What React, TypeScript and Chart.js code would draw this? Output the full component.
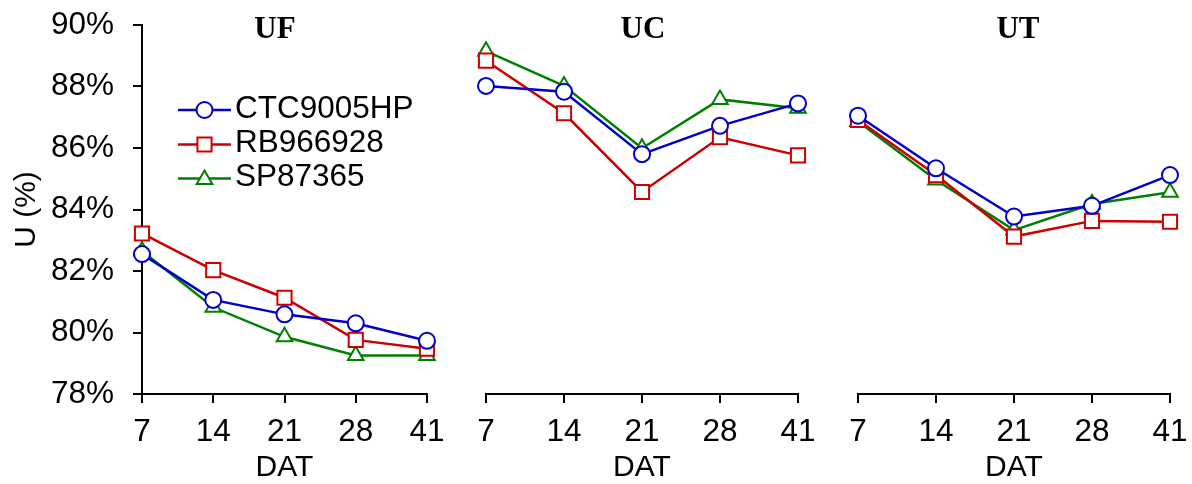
import React, { useEffect, useRef } from 'react';
import { Chart, registerables } from 'chart.js';

Chart.register(...registerables);

const SANS = "'Liberation Sans', Arial, sans-serif";
const SERIF = "'Liberation Serif', 'Times New Roman', serif";

// ---- data ----
const categories = ['7', '14', '21', '28', '41'];
const seriesNames = ['CTC9005HP', 'RB966928', 'SP87365'];

const ufCTC = [82.55, 81.06, 80.59, 80.3, 79.73];
const ufRB = [83.22, 82.03, 81.13, 79.76, 79.47];
const ufSP = [82.65, 80.82, 79.86, 79.25, 79.25];

const ucCTC = [88.02, 87.83, 85.8, 86.72, 87.45];
const ucRB = [88.84, 87.13, 84.57, 86.35, 85.76];
const ucSP = [89.15, 88.02, 85.99, 87.58, 87.29];

const utCTC = [87.05, 85.34, 83.77, 84.12, 85.12];
const utRB = [86.91, 85.12, 83.12, 83.63, 83.6];
const utSP = [86.86, 84.96, 83.33, 84.18, 84.56];

const yMin = 78;
const yMax = 90;
const yStep = 2;
const panelTitles = ['UF', 'UC', 'UT'];
const xTitle = 'DAT';
const yTitle = 'U (%)';

// ---- styles ----
const seriesColors = ['#0000C8', '#CC0000', '#008000'];
const seriesShapes = ['circle', 'rect', 'triangle'];
const seriesRadius = [8, 10, 9];
const TICK_SIZE = 31.5;
const TITLE_SIZE = 30;

const panels = [
  { title: panelTitles[0], values: [ufCTC, ufRB, ufSP], left: 0, width: 456, padL: 0, padR: 29, showY: true, legend: true, titleX: 275 },
  { title: panelTitles[1], values: [ucCTC, ucRB, ucSP], left: 456, width: 372, padL: 30, padR: 30, showY: false, legend: false, titleX: 643 },
  { title: panelTitles[2], values: [utCTC, utRB, utSP], left: 828, width: 364, padL: 30, padR: 22, showY: false, legend: false, titleX: 1018 },
];

function drawMarker(ctx: CanvasRenderingContext2D, shape: string, x: number, y: number, r: number, color: string) {
  ctx.save();
  ctx.lineWidth = 2;
  ctx.strokeStyle = color;
  ctx.fillStyle = '#fff';
  ctx.beginPath();
  if (shape === 'circle') {
    ctx.arc(x, y, r, 0, Math.PI * 2);
  } else if (shape === 'rect') {
    const s = r * Math.SQRT1_2;
    ctx.rect(x - s, y - s, 2 * s, 2 * s);
  } else {
    ctx.moveTo(x, y - r);
    ctx.lineTo(x + Math.sin((2 * Math.PI) / 3) * r, y + r / 2);
    ctx.lineTo(x - Math.sin((2 * Math.PI) / 3) * r, y + r / 2);
    ctx.closePath();
  }
  ctx.fill();
  ctx.stroke();
  ctx.restore();
}

function Panel({ cfg }: { cfg: any }) {
  const ref = useRef<HTMLCanvasElement>(null);
  useEffect(() => {
    if (!ref.current) return;
    const titlePlugin = {
      id: 'panelTitle',
      afterDraw(chart: any) {
        const ctx = chart.ctx;
        ctx.save();
        ctx.font = `bold 31px ${SERIF}`;
        ctx.fillStyle = '#000';
        ctx.textAlign = 'center';
        ctx.textBaseline = 'middle';
        ctx.fillText(cfg.title, cfg.titleX - cfg.left, 30);
        ctx.restore();
      },
    };
    const legendPlugin = {
      id: 'lineLegend',
      afterDraw(chart: any) {
        if (!cfg.legend) return;
        const ctx = chart.ctx;
        const rows = [110, 144.5, 178.5];
        seriesNames.forEach((name, i) => {
          const y = rows[i];
          ctx.save();
          ctx.strokeStyle = seriesColors[i];
          ctx.lineWidth = 2.5;
          ctx.beginPath();
          ctx.moveTo(178, y);
          ctx.lineTo(231, y);
          ctx.stroke();
          ctx.restore();
          drawMarker(ctx, seriesShapes[i], 204.5, y + (seriesShapes[i] === 'triangle' ? 1 : 0), seriesRadius[i], seriesColors[i]);
          ctx.save();
          ctx.font = `${TICK_SIZE}px ${SANS}`;
          ctx.fillStyle = '#000';
          ctx.textAlign = 'left';
          ctx.textBaseline = 'middle';
          ctx.fillText(name, 235, y - 1);
          ctx.restore();
        });
      },
    };
    const chart = new Chart(ref.current, {
      type: 'line',
      data: {
        labels: categories,
        datasets: cfg.values.map((vals: number[], i: number) => ({
          label: seriesNames[i],
          data: vals,
          borderColor: seriesColors[i],
          borderWidth: 2.5,
          pointStyle: seriesShapes[i],
          pointRadius: seriesRadius[i],
          pointHoverRadius: seriesRadius[i],
          pointBorderWidth: 2,
          pointBackgroundColor: '#fff',
          pointBorderColor: seriesColors[i],
          tension: 0,
          fill: false,
          clip: false,
        })),
      },
      options: {
        responsive: false,
        animation: false,
        events: [],
        layout: { padding: { left: cfg.padL, right: cfg.padR, top: 25, bottom: 0 } },
        plugins: { legend: { display: false }, tooltip: { enabled: false }, title: { display: false } },
        scales: {
          x: {
            type: 'category',
            offset: false,
            grid: { display: true, drawOnChartArea: false, drawTicks: true, tickLength: 9, color: '#000', lineWidth: 2 },
            border: { display: true, color: '#000', width: 2 },
            ticks: { font: { family: SANS, size: TICK_SIZE }, color: '#000', padding: 10, maxRotation: 0, autoSkip: false },
            title: { display: true, text: xTitle, font: { family: SANS, size: TITLE_SIZE, lineHeight: 1.1 }, color: '#000', padding: { top: 0, bottom: 0 } },
            afterFit: (s: any) => {
              s.height = 90;
              s.paddingLeft = 0;
              s.paddingRight = 0;
            },
          },
          y: {
            display: cfg.showY,
            min: yMin,
            max: yMax,
            grid: { display: true, drawOnChartArea: false, drawTicks: true, tickLength: 9, color: '#000', lineWidth: 2 },
            border: { display: true, color: '#000', width: 2 },
            ticks: { stepSize: yStep, font: { family: SANS, size: TICK_SIZE }, color: '#000', padding: 19, callback: (v: any) => `${v}%` },
            title: { display: true, text: yTitle, font: { family: SANS, size: TITLE_SIZE, lineHeight: 1.2 }, color: '#000', padding: { top: 9, bottom: 0 } },
            afterFit: (s: any) => {
              if (cfg.showY) s.width = 142;
              s.paddingTop = 0;
              s.paddingBottom = 0;
            },
          },
        },
      },
      plugins: [titlePlugin, legendPlugin],
    } as any);
    return () => chart.destroy();
  }, [cfg]);
  return (
    <canvas
      ref={ref}
      width={cfg.width}
      height={484}
      style={{ position: 'absolute', left: cfg.left, top: 0, width: cfg.width, height: 484 }}
    />
  );
}

export default function App() {
  return (
    <div style={{ position: 'absolute', left: 0, top: 0, width: 1192, height: 484, background: '#fff', overflow: 'hidden' }}>
      {panels.map((p) => (
        <Panel key={p.title} cfg={p} />
      ))}
    </div>
  );
}
